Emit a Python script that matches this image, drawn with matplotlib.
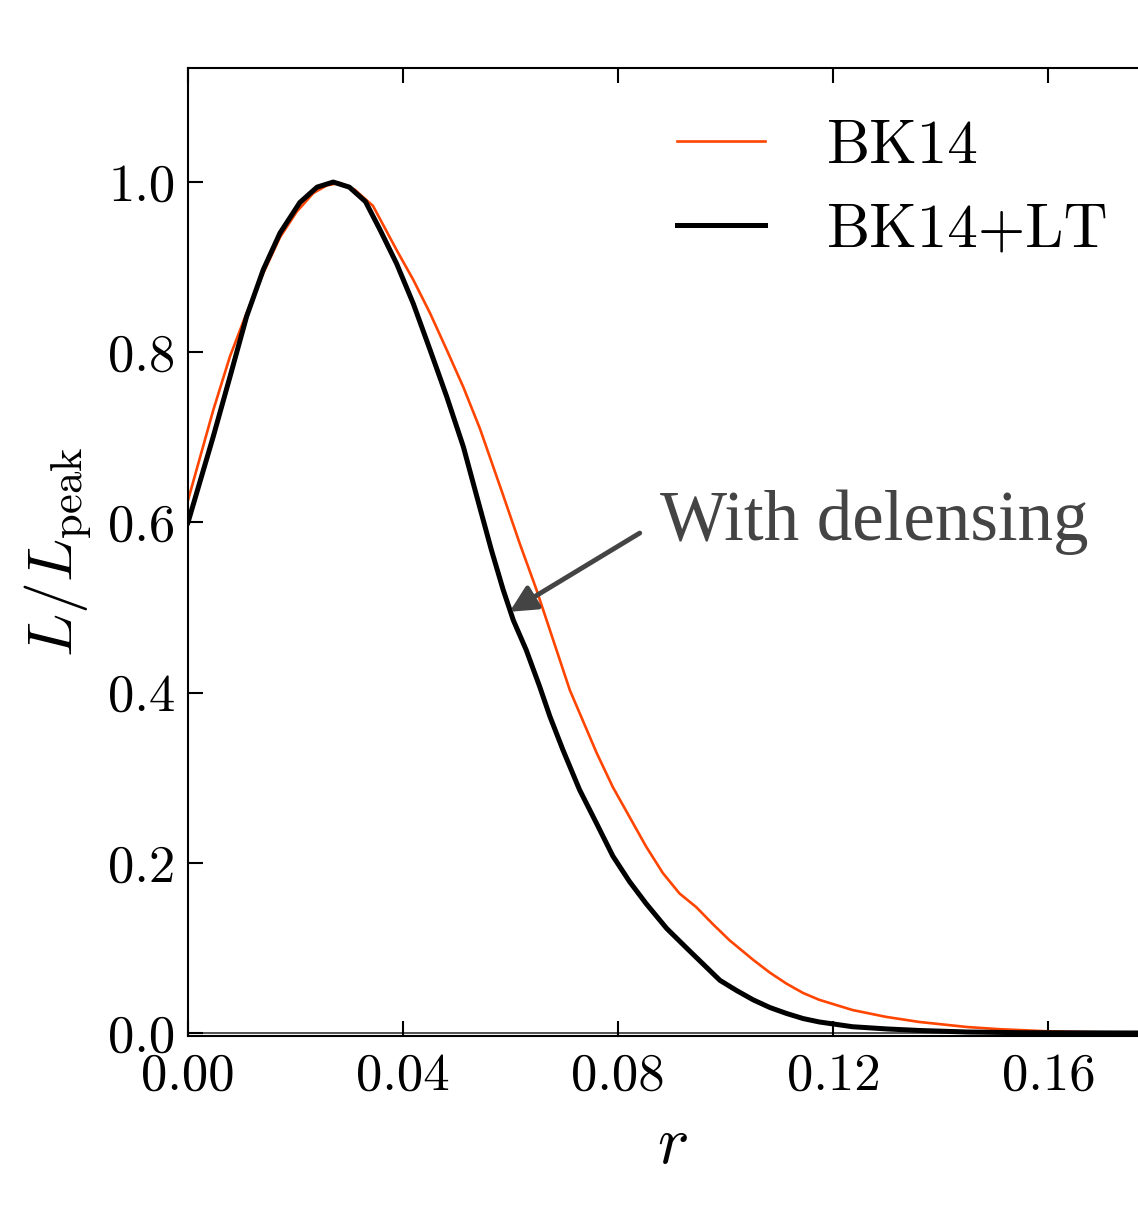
import numpy as np
import matplotlib
matplotlib.use("Agg")
import matplotlib.pyplot as plt
from matplotlib.ticker import FormatStrFormatter, MultipleLocator

plt.rcParams['font.family'] = 'serif'
plt.rcParams['font.serif'] = ['cmr10', 'DejaVu Serif']
plt.rcParams['mathtext.fontset'] = 'cm'
plt.rcParams['axes.formatter.use_mathtext'] = True

# BK14 likelihood
r_bk14 = [0.0, 0.0047, 0.0078, 0.0109, 0.0140, 0.0171, 0.0202, 0.0233, 0.0258,
          0.0282, 0.0310, 0.0344, 0.0388, 0.0419, 0.0450, 0.0481, 0.0512, 0.0543,
          0.0586, 0.0617, 0.0648, 0.0679, 0.0710, 0.0760, 0.0790, 0.0821, 0.0852,
          0.0883, 0.0914, 0.0945, 0.0976, 0.1007, 0.1051, 0.1082, 0.1113, 0.1144,
          0.1174, 0.1236, 0.1298, 0.1360, 0.1450, 0.1510, 0.1600, 0.1700, 0.1800]
L_bk14 = [0.626, 0.732, 0.795, 0.846, 0.893, 0.935, 0.965, 0.987, 0.996,
          0.999, 0.991, 0.972, 0.920, 0.885, 0.846, 0.803, 0.759, 0.710,
          0.632, 0.575, 0.521, 0.462, 0.403, 0.329, 0.289, 0.254, 0.219,
          0.188, 0.164, 0.148, 0.128, 0.109, 0.086, 0.071, 0.058, 0.047,
          0.039, 0.027, 0.019, 0.013, 0.007, 0.0045, 0.002, 0.0008, 0.0]

# BK14 + LT (delensed)
r_lt = [0.0, 0.0047, 0.0078, 0.0109, 0.0140, 0.0171, 0.0208, 0.0240, 0.0270,
        0.0300, 0.0330, 0.0357, 0.0388, 0.0419, 0.0450, 0.0481, 0.0512, 0.0539,
        0.0564, 0.0586, 0.0605, 0.0629, 0.0654, 0.0673, 0.0697, 0.0728, 0.0760,
        0.0790, 0.0821, 0.0852, 0.0890, 0.0927, 0.0958, 0.0989, 0.1020, 0.1051,
        0.1082, 0.1113, 0.1144, 0.1174, 0.1236, 0.1300, 0.1360, 0.1450, 0.1550,
        0.1800]
L_lt = [0.600, 0.701, 0.771, 0.842, 0.897, 0.940, 0.976, 0.994, 1.0,
        0.994, 0.977, 0.944, 0.904, 0.857, 0.803, 0.748, 0.689, 0.626,
        0.568, 0.521, 0.485, 0.450, 0.407, 0.372, 0.333, 0.286, 0.246,
        0.208, 0.178, 0.152, 0.123, 0.100, 0.081, 0.062, 0.050, 0.039,
        0.030, 0.023, 0.017, 0.013, 0.0074, 0.0048, 0.0030, 0.0012, 0.0004,
        0.0]

arrow_tip = (0.0598, 0.495)
arrow_tail = (0.0840, 0.5875)
note_pos = (0.0877, 0.600)

fig = plt.figure(figsize=(11.38, 12.12), dpi=100)
ax = fig.add_axes([0.1652, 0.1452, 0.8506, 0.7987])

ax.axhline(0, color='#333333', lw=1.2, zorder=1)
ax.plot(r_bk14, L_bk14, color='#ff4500', lw=1.9, label='BK14')
ax.plot(r_lt, L_lt, color='black', lw=3.6, label='BK14+LT')

ax.set_xlim(0, 0.18)
ax.set_ylim(-0.0035, 1.134)
ax.xaxis.set_major_locator(MultipleLocator(0.04))
ax.yaxis.set_major_locator(MultipleLocator(0.2))
ax.xaxis.set_major_formatter(FormatStrFormatter('%.2f'))
ax.yaxis.set_major_formatter(FormatStrFormatter('%.1f'))
ax.tick_params(direction='in', top=True, right=True, length=11, width=1.5,
               labelsize=38)
ax.tick_params(axis='x', pad=12)
ax.tick_params(axis='y', pad=9)
for sp in ax.spines.values():
    sp.set_linewidth(1.5)

ax.set_xlabel(r'$r$', fontsize=48, labelpad=12)
ax.set_ylabel(r'$L/L_{\rm peak}$', fontsize=46, labelpad=10)

ax.legend(loc='upper left', bbox_to_anchor=(0.505, 0.947), frameon=False,
          fontsize=44, handlelength=1.45, handletextpad=1.0, labelspacing=0.46,
          borderpad=0, borderaxespad=0)

ax.annotate('', xy=arrow_tip, xytext=arrow_tail,
            arrowprops=dict(arrowstyle='-|>', color='#444444', lw=3.5,
                            mutation_scale=40, shrinkA=0, shrinkB=0))
ax.text(note_pos[0], note_pos[1], 'With delensing', fontsize=51,
        family='Liberation Serif', color='#444444', ha='left', va='center')

fig.savefig('out.png', dpi=100)
